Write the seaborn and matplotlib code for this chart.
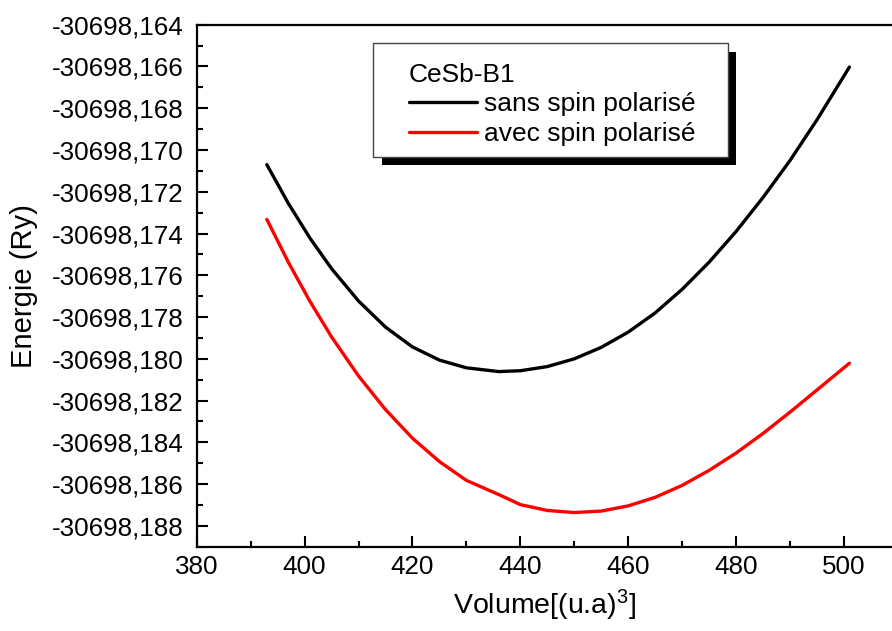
import numpy as np
import pandas as pd
import seaborn as sns
import matplotlib.pyplot as plt
from matplotlib.ticker import MultipleLocator, FuncFormatter
from matplotlib.patches import Rectangle

# Volume (u.a)^3 and total energy (Ry)
volume = [393, 397, 401, 405, 410, 415, 420, 425, 430, 436, 440, 445,
          450, 455, 460, 465, 470, 475, 480, 485, 490, 495, 501]
e_sans_spin = [-30698.17070, -30698.17256, -30698.17422, -30698.17568,
               -30698.17723, -30698.17848, -30698.17943, -30698.18006,
               -30698.18043, -30698.18061, -30698.18057, -30698.18037,
               -30698.18000, -30698.17945, -30698.17872, -30698.17780,
               -30698.17667, -30698.17537, -30698.17390, -30698.17227,
               -30698.17050, -30698.16855, -30698.16603]
e_avec_spin = [-30698.17332, -30698.17538, -30698.17725, -30698.17895,
               -30698.18082, -30698.18243, -30698.18380, -30698.18492,
               -30698.18582, -30698.18650, -30698.18698, -30698.18726,
               -30698.18736, -30698.18729, -30698.18704, -30698.18663,
               -30698.18606, -30698.18534, -30698.18451, -30698.18357,
               -30698.18255, -30698.18149, -30698.18021]
series = ['sans spin polarisé', 'avec spin polarisé']
colors = {'sans spin polarisé': 'black', 'avec spin polarisé': 'red'}

df = pd.DataFrame({
    'Volume': volume * 2,
    'Energie': e_sans_spin + e_avec_spin,
    'Serie': [series[0]] * len(volume) + [series[1]] * len(volume),
})

sns.set_style("ticks")
plt.rcParams['font.family'] = ['Liberation Sans', 'DejaVu Sans']
plt.rcParams['mathtext.fontset'] = 'custom'
plt.rcParams['mathtext.rm'] = 'Liberation Sans'
plt.rcParams['mathtext.it'] = 'Liberation Sans'
for key in ['text.color', 'axes.labelcolor', 'xtick.color', 'ytick.color']:
    plt.rcParams[key] = 'black'

W, H = 892, 631
fig = plt.figure(figsize=(W / 100, H / 100), dpi=100)
ax = fig.add_axes([196.7 / W, 84 / H, 1 - 196.7 / W, (547 - 24.7) / H])

sns.lineplot(data=df, x='Volume', y='Energie', hue='Serie', palette=colors,
             hue_order=series, estimator=None, sort=False, linewidth=2.4,
             solid_joinstyle='round', solid_capstyle='round', ax=ax)

ax.set_xlim(380, 508.9)
ax.set_ylim(-30698.18901, -30698.164)

ax.xaxis.set_major_locator(MultipleLocator(20))
ax.xaxis.set_minor_locator(MultipleLocator(10))
ax.yaxis.set_major_locator(MultipleLocator(0.002))
ax.yaxis.set_minor_locator(MultipleLocator(0.001))
ax.yaxis.set_major_formatter(FuncFormatter(lambda v, p: f"{v:.3f}".replace('.', ',')))

ax.tick_params(which='both', direction='in', width=1.5, colors='black',
               labelsize=18.7, top=False, right=False)
ax.tick_params(which='major', length=8)
ax.tick_params(which='minor', length=4)
ax.tick_params(axis='x', pad=6)
ax.tick_params(axis='y', pad=9.5)

for side in ['left', 'bottom', 'top']:
    ax.spines[side].set_linewidth(1.6)
    ax.spines[side].set_color('black')
ax.spines['right'].set_visible(False)

ax.set_xlabel('Volume[(u.a)$^3$]', fontsize=20.5)
ax.set_ylabel('Energie (Ry)', fontsize=21)
ax.xaxis.set_label_coords(0.5, (547 - 588) / (547 - 24.7))
ax.yaxis.set_label_coords((38 - 196.7) / (W - 196.7), 0.5)

# legend frame with Origin-like drop shadow
box_x0, box_y0, box_x1, box_y1 = 373, 43.3, 727.7, 156.7
off = 8.5
shadow = Rectangle(((box_x0 + off) / W, 1 - (box_y1 + off) / H),
                   (box_x1 - box_x0) / W, (box_y1 - box_y0) / H,
                   transform=fig.transFigure, facecolor='black',
                   edgecolor='none', zorder=3, clip_on=False)
frame = Rectangle((box_x0 / W, 1 - box_y1 / H),
                  (box_x1 - box_x0) / W, (box_y1 - box_y0) / H,
                  transform=fig.transFigure, facecolor='white',
                  edgecolor='#444444', linewidth=1, zorder=3.5, clip_on=False)
ax.add_patch(shadow)
ax.add_patch(frame)

handles, labels = ax.get_legend_handles_labels()
for h in handles:
    h.set_linewidth(2.4)
leg = ax.legend(handles, labels, title='CeSb-B1', title_fontsize=19,
                fontsize=19, frameon=False, loc='upper left',
                bbox_to_anchor=(408.5 / W, 1 - 62.5 / H),
                bbox_transform=fig.transFigure, borderpad=0, borderaxespad=0,
                handlelength=2.6, handletextpad=0.28, labelspacing=0.22,
                alignment='left')
leg.set_zorder(5)

fig.savefig('out.png', dpi=100)
